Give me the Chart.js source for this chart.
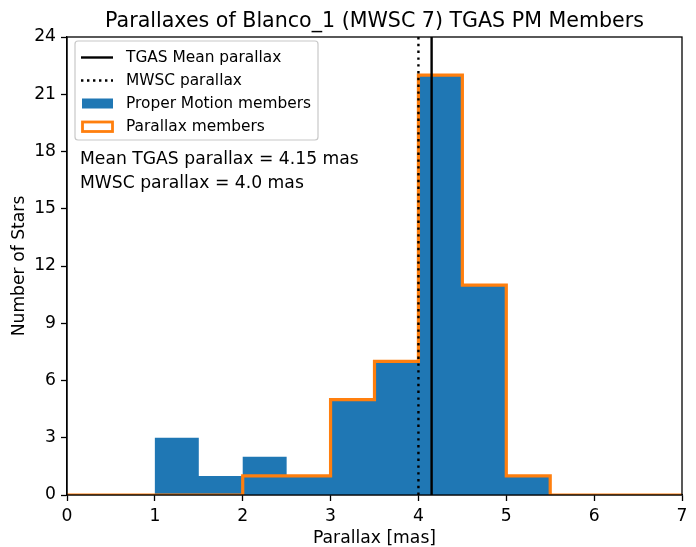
<!DOCTYPE html>
<html>
<head>
<meta charset="utf-8">
<script src="https://cdn.jsdelivr.net/npm/chart.js@4"></script>
<style>
  html, body { margin: 0; padding: 0; background: #fff; }
  #wrap { width: 696px; height: 547px; }
</style>
</head>
<body>
<div id="wrap"><canvas id="hist"></canvas></div>
<script>
// --- Data ---
const binEdges = [0, 0.5, 1, 1.5, 2, 2.5, 3, 3.5, 4, 4.5, 5, 5.5, 6, 6.5, 7];
const pmCounts = [0, 0, 3, 1, 2, 1, 5, 7, 22, 11, 1, 0, 0, 0];
const parallaxCounts = [0, 0, 0, 0, 1, 1, 5, 7, 22, 11, 1, 0, 0, 0];
const meanTgasParallax = 4.15;
const mwscParallax = 4.0;
const xTicks = [0, 1, 2, 3, 4, 5, 6, 7];
const yTicks = [0, 3, 6, 9, 12, 15, 18, 21, 24];

const FONT = "'DejaVu Sans', sans-serif";
const BLUE = '#1f77b4';
const ORANGE = '#ff7f0e';
const FS = 17.2;

// histogram -> stepped points at left edges, closed at the last edge
function stepPoints(counts) {
    const pts = counts.map((c, i) => ({ x: binEdges[i], y: c }));
    pts.push({ x: binEdges[binEdges.length - 1], y: counts[counts.length - 1] });
    return pts;
}

const ymax = yTicks[yTicks.length - 1];

// title, frame, legend and text drawn on the canvas
const decorations = {
    id: 'decorations',
    afterDraw(chart) {
        const ctx = chart.ctx;
        const a = chart.chartArea;
        ctx.save();
        // frame (top / right spines)
        ctx.strokeStyle = '#000';
        ctx.lineWidth = 1.3;
        ctx.strokeRect(a.left, a.top, a.right - a.left, a.bottom - a.top);

        // title
        ctx.fillStyle = '#000';
        ctx.font = '20.6px ' + FONT;
        ctx.textAlign = 'center';
        ctx.textBaseline = 'middle';
        ctx.fillText('Parallaxes of Blanco_1 (MWSC 7) TGAS PM Members', (a.left + a.right) / 2, 21.5);

        // legend box
        const bx = 75, by = 41, bw = 243, bh = 99, r = 3;
        ctx.beginPath();
        ctx.moveTo(bx + r, by);
        ctx.arcTo(bx + bw, by, bx + bw, by + bh, r);
        ctx.arcTo(bx + bw, by + bh, bx, by + bh, r);
        ctx.arcTo(bx, by + bh, bx, by, r);
        ctx.arcTo(bx, by, bx + bw, by, r);
        ctx.closePath();
        ctx.fillStyle = 'rgba(255,255,255,0.8)';
        ctx.fill();
        ctx.strokeStyle = '#c8c8c8';
        ctx.lineWidth = 1.2;
        ctx.stroke();

        const rows = [57.5, 80.5, 103.5, 126.5];
        const hx0 = 81, hx1 = 113;
        // solid line
        ctx.strokeStyle = '#000';
        ctx.lineWidth = 2.4;
        ctx.beginPath(); ctx.moveTo(hx0, rows[0]); ctx.lineTo(hx1, rows[0]); ctx.stroke();
        // dotted line
        ctx.setLineDash([2.4, 3.6]);
        ctx.beginPath(); ctx.moveTo(hx0, rows[1]); ctx.lineTo(hx1, rows[1]); ctx.stroke();
        ctx.setLineDash([]);
        // filled patch
        ctx.fillStyle = BLUE;
        ctx.fillRect(hx0 + 1, rows[2] - 5, hx1 - hx0 - 1, 10);
        // outlined patch
        ctx.strokeStyle = ORANGE;
        ctx.lineWidth = 2.8;
        ctx.strokeRect(hx0 + 1.5, rows[3] - 4.5, hx1 - hx0 - 2, 9.5);

        ctx.fillStyle = '#000';
        ctx.font = '15.4px ' + FONT;
        ctx.textAlign = 'left';
        ctx.textBaseline = 'middle';
        const labels = ['TGAS Mean parallax', 'MWSC parallax', 'Proper Motion members', 'Parallax members'];
        labels.forEach((t, i) => ctx.fillText(t, 126, rows[i]));

        // annotation text
        ctx.font = FS + 'px ' + FONT;
        ctx.fillText('Mean TGAS parallax = ' + meanTgasParallax + ' mas', 80, 159.5);
        ctx.fillText('MWSC parallax = ' + mwscParallax.toFixed(1) + ' mas', 80, 183.5);
        ctx.restore();
    }
};

new Chart(document.getElementById('hist'), {
    type: 'line',
    data: {
        datasets: [
            {
                label: 'TGAS Mean parallax',
                data: [{ x: meanTgasParallax, y: 0 }, { x: meanTgasParallax, y: ymax }],
                borderColor: '#000',
                borderWidth: 2.4,
                pointRadius: 0,
                order: 1
            },
            {
                label: 'MWSC parallax',
                data: [{ x: mwscParallax, y: 0 }, { x: mwscParallax, y: ymax }],
                borderColor: '#000',
                borderWidth: 2.4,
                borderDash: [2.4, 4.4],
                borderCapStyle: 'butt',
                pointRadius: 0,
                order: 2
            },
            {
                label: 'Parallax members',
                data: stepPoints(parallaxCounts),
                stepped: 'before',
                borderColor: ORANGE,
                borderWidth: 3.2,
                borderJoinStyle: 'miter',
                pointRadius: 0,
                fill: false,
                order: 3
            },
            {
                label: 'Proper Motion members',
                data: stepPoints(pmCounts),
                stepped: 'before',
                borderWidth: 0,
                borderColor: 'rgba(0,0,0,0)',
                backgroundColor: BLUE,
                pointRadius: 0,
                fill: 'origin',
                order: 4
            }
        ]
    },
    options: {
        responsive: true,
        maintainAspectRatio: false,
        animation: false,
        layout: { padding: { top: 37, right: 14, left: 0, bottom: 0 } },
        plugins: {
            legend: { display: false },
            title: { display: false },
            tooltip: { enabled: false }
        },
        scales: {
            x: {
                type: 'linear',
                min: 0,
                max: 7,
                afterBuildTicks: (s) => { s.ticks = xTicks.map(v => ({ value: v })); },
                afterFit: (s) => { s.height = 52; },
                grid: { drawOnChartArea: false, drawTicks: true, tickLength: 6, tickColor: '#000', tickWidth: 1.3 },
                border: { color: '#000', width: 1.3 },
                ticks: { color: '#000', font: { family: FONT, size: FS }, padding: 5, maxRotation: 0 },
                title: { display: true, text: 'Parallax [mas]', color: '#000', font: { family: FONT, size: FS }, padding: { top: 0, bottom: -2 } }
            },
            y: {
                type: 'linear',
                min: 0,
                max: ymax,
                afterBuildTicks: (s) => { s.ticks = yTicks.map(v => ({ value: v })); },
                afterFit: (s) => { s.width = 67; },
                grid: { drawOnChartArea: false, drawTicks: true, tickLength: 6, tickColor: '#000', tickWidth: 1.3 },
                border: { color: '#000', width: 1.3 },
                ticks: { color: '#000', font: { family: FONT, size: FS }, padding: 5 },
                title: { display: true, text: 'Number of Stars', color: '#000', font: { family: FONT, size: FS }, padding: { top: 9, bottom: 0 } }
            }
        }
    },
    plugins: [decorations]
});
</script>
</body>
</html>
